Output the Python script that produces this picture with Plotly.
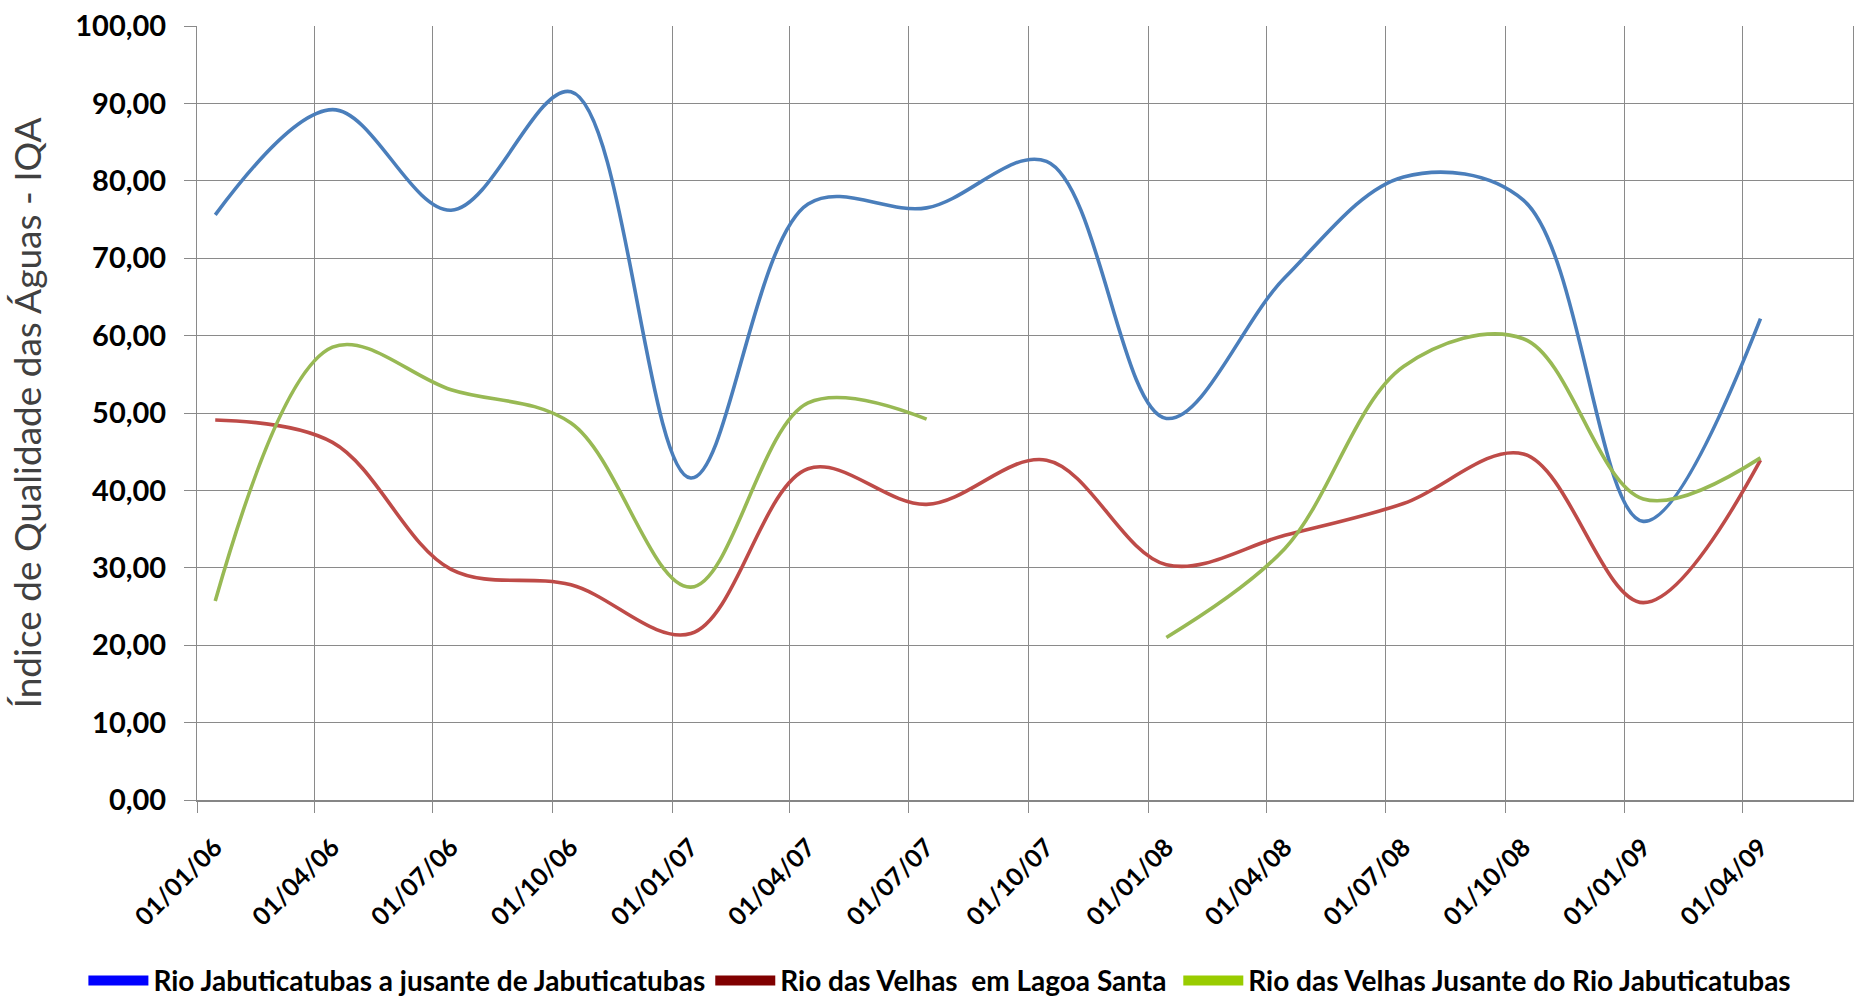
import plotly.graph_objects as go

# Campaign dates (quarterly sampling, mid-month)
datas = [
    "2006-01-15", "2006-04-15", "2006-07-15", "2006-10-15",
    "2007-01-15", "2007-04-15", "2007-07-15", "2007-10-15",
    "2008-01-15", "2008-04-15", "2008-07-15", "2008-10-15",
    "2009-01-15", "2009-04-15",
]

# IQA per monitoring station
iqa_jabuticatubas = [75.6, 89.2, 76.2, 91.5, 41.6, 77.0, 76.5, 82.5,
                     49.3, 67.5, 80.5, 77.5, 36.0, 62.2]
iqa_lagoa_santa = [49.1, 46.2, 29.8, 27.8, 21.5, 42.8, 38.2, 43.9,
                   30.4, 34.2, 38.3, 44.7, 25.5, 43.9]
iqa_jusante = [25.7, 58.5, 53.0, 48.7, 27.5, 51.3, 49.2, None,
               21.0, 32.5, 56.0, 59.6, 38.9, 44.2]

nomes = [
    "Rio Jabuticatubas a jusante de Jabuticatubas",
    "Rio das Velhas \u00a0em Lagoa Santa\u00a0",
    "Rio das Velhas Jusante do Rio Jabuticatubas",
]
series = [iqa_jabuticatubas, iqa_lagoa_santa, iqa_jusante]
cores_linha = ["#4A7EBB", "#BE4B48", "#98B954"]
cores_legenda = ["#0000FF", "#800000", "#99CC00"]

y_ticks = [0, 10, 20, 30, 40, 50, 60, 70, 80, 90, 100]

fig = go.Figure()

for nome, valores, cor in zip(nomes, series, cores_linha):
    fig.add_trace(go.Scatter(
        x=datas, y=valores, mode="lines", name=nome,
        line=dict(color=cor, width=3.6, shape="spline", smoothing=1.0),
        connectgaps=False, showlegend=False, legendgroup=nome,
        hoverinfo="skip",
    ))

# Legend swatches
for nome, cor in zip(nomes, cores_legenda):
    fig.add_trace(go.Scatter(
        x=[None], y=[None], mode="lines", name=nome, legendgroup=nome,
        line=dict(color=cor, width=12),
    ))

grid = "#8A8A8A"
fig.update_layout(
    width=1855, height=1003,
    margin=dict(l=197, r=2, t=26, b=203, autoexpand=False),
    paper_bgcolor="white", plot_bgcolor="white",
    separators=",.",
    font=dict(family="Lato", color="black"),
    showlegend=True,
    legend=dict(
        orientation="h", xref="paper", yref="paper",
        x=-0.0686, y=-0.2335, xanchor="left", yanchor="middle",
        font=dict(family="Lato", size=28, weight="bold", color="black"),
        itemwidth=60, tracegroupgap=0, bgcolor="rgba(0,0,0,0)",
    ),
    xaxis=dict(
        type="date",
        range=["2006-01-01", "2009-06-25"],
        tick0="2006-01-01", dtick="M3", tickformat="%d/%m/%y",
        tickangle=-45, ticklabelshift=18, ticklabelstandoff=10,
        tickfont=dict(family="Lato", size=25, weight="bold", color="black"),
        showgrid=True, gridcolor=grid, gridwidth=1,
        ticks="outside", ticklen=11, tickcolor=grid, tickwidth=1,
        showline=True, linecolor="#868686", linewidth=2,
        zeroline=False,
    ),
    yaxis=dict(
        range=[0, 100], tickvals=y_ticks, tickformat=".2f",
        tickfont=dict(family="Lato", size=29, weight="bold", color="black"),
        ticklabelstandoff=12,
        showgrid=True, gridcolor=grid, gridwidth=1,
        ticks="outside", ticklen=12, tickcolor=grid, tickwidth=1,
        showline=True, linecolor=grid, linewidth=1, mirror=True,
        zeroline=False,
        title=dict(
            text="Índice de Qualidade das Águas - IQA",
            font=dict(family="Lato", size=37, color="#404040"),
            standoff=22,
        ),
    ),
)

fig.write_html("out.html")
